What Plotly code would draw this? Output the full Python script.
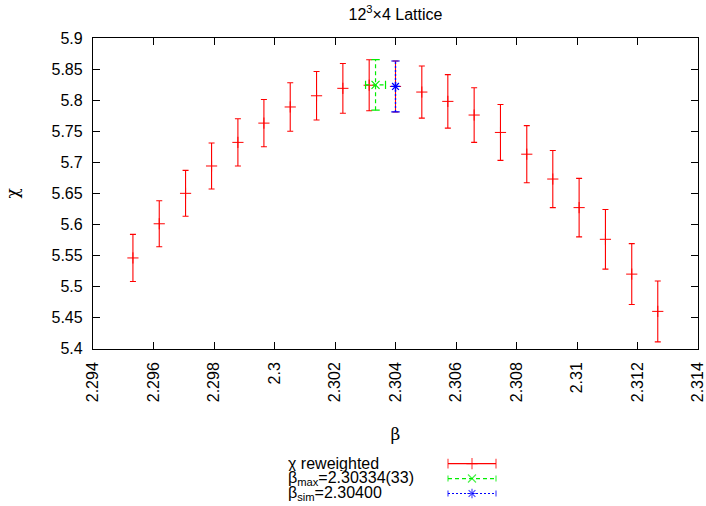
import plotly.graph_objects as go

# Reweighted susceptibility chi(beta) with jackknife errors
beta_rw = [2.29532, 2.29619, 2.29706, 2.29792, 2.29879, 2.29965, 2.30052,
           2.30139, 2.30226, 2.30313, 2.30400, 2.30487, 2.30573, 2.30660,
           2.30747, 2.30834, 2.30920, 2.31007, 2.31094, 2.31181, 2.31267]
chi_rw = [5.546, 5.601, 5.650, 5.694, 5.732, 5.763, 5.789, 5.807, 5.819,
          5.824, 5.822, 5.813, 5.798, 5.776, 5.748, 5.713, 5.673, 5.627,
          5.576, 5.520, 5.460]
chi_rw_err = [0.038, 0.037, 0.037, 0.037, 0.038, 0.038, 0.039, 0.039, 0.040,
              0.041, 0.041, 0.042, 0.043, 0.044, 0.045, 0.046, 0.046, 0.047,
              0.048, 0.049, 0.049]

# Location of the maximum
beta_max = 2.30334
beta_max_err = 0.00033
chi_max = 5.8245
chi_max_err = 0.0407

# Simulation point
beta_sim = 2.30400
chi_sim = 5.822
chi_sim_err = 0.041

x_ticks = [2.294, 2.296, 2.298, 2.300, 2.302, 2.304, 2.306, 2.308, 2.310, 2.312, 2.314]
x_tick_labels = ["2.294", "2.296", "2.298", "2.3", "2.302", "2.304", "2.306",
                 "2.308", "2.31", "2.312", "2.314"]
y_ticks = [5.40, 5.45, 5.50, 5.55, 5.60, 5.65, 5.70, 5.75, 5.80, 5.85, 5.90]
y_tick_labels = ["5.4", "5.45", "5.5", "5.55", "5.6", "5.65", "5.7", "5.75",
                 "5.8", "5.85", "5.9"]

RED = "#ff0000"
GREEN = "#00ee00"
BLUE = "#0000ff"
FONT = "Liberation Sans, Arial, Helvetica, sans-serif"

fig = go.Figure()

# red reweighted points
fig.add_trace(go.Scatter(
    x=beta_rw, y=chi_rw, mode="markers",
    marker=dict(symbol="cross-thin", size=8, color=RED, line=dict(color=RED, width=1)),
    error_y=dict(type="data", array=chi_rw_err, visible=True, color=RED,
                 thickness=1.1, width=3),
    showlegend=False, cliponaxis=False,
))

# green maximum: dashed x/y error bars
fig.add_trace(go.Scatter(
    x=[beta_max, beta_max], y=[chi_max - chi_max_err, chi_max + chi_max_err],
    mode="lines", line=dict(color=GREEN, width=1.2, dash="4px,3px"), showlegend=False,
))
fig.add_trace(go.Scatter(
    x=[beta_max - beta_max_err, beta_max + beta_max_err], y=[chi_max, chi_max],
    mode="lines", line=dict(color=GREEN, width=1.2, dash="4px,3px"), showlegend=False,
))
fig.add_trace(go.Scatter(
    x=[beta_max, beta_max], y=[chi_max - chi_max_err, chi_max + chi_max_err],
    mode="markers", marker=dict(symbol="line-ew", size=6, color=GREEN,
                                line=dict(color=GREEN, width=1.2)),
    showlegend=False,
))
fig.add_trace(go.Scatter(
    x=[beta_max - beta_max_err, beta_max + beta_max_err], y=[chi_max, chi_max],
    mode="markers", marker=dict(symbol="line-ns", size=6, color=GREEN,
                                line=dict(color=GREEN, width=1.2)),
    showlegend=False,
))
fig.add_trace(go.Scatter(
    x=[beta_max], y=[chi_max], mode="markers",
    marker=dict(symbol="x-thin", size=8, color=GREEN, line=dict(color=GREEN, width=1.2)),
    showlegend=False,
))

# blue simulation point: dotted error bar
fig.add_trace(go.Scatter(
    x=[beta_sim, beta_sim], y=[chi_sim - chi_sim_err, chi_sim + chi_sim_err],
    mode="lines", line=dict(color=BLUE, width=1.3, dash="2px,2px"), showlegend=False,
))
fig.add_trace(go.Scatter(
    x=[beta_sim, beta_sim], y=[chi_sim - chi_sim_err, chi_sim + chi_sim_err],
    mode="markers", marker=dict(symbol="line-ew", size=6, color=BLUE,
                                line=dict(color=BLUE, width=1.2)),
    showlegend=False,
))
fig.add_trace(go.Scatter(
    x=[beta_sim], y=[chi_sim], mode="markers",
    marker=dict(symbol="asterisk-open", size=8, color=BLUE, line=dict(color=BLUE, width=1.3)),
    showlegend=False,
))

# key samples on a hidden helper axis
legend_rows = [2, 1, 0]
legend_texts = [
    "χ reweighted",
    f"β<sub>max</sub>={beta_max:.5f}({round(beta_max_err * 1e5):d})",
    f"β<sub>sim</sub>={beta_sim:.5f}",
]
legend_styles = [
    (RED, "solid", "cross-thin", 1.0),
    (GREEN, "4px,3px", "x-thin", 0.6),
    (BLUE, "2px,2px", "asterisk-open", 0.6),
]
for row, (col, dash, sym, cap) in zip(legend_rows, legend_styles):
    fig.add_trace(go.Scatter(
        x=[0, 1], y=[row, row], mode="lines", xaxis="x2", yaxis="y2",
        line=dict(color=col, width=1.2, dash=dash), showlegend=False, cliponaxis=False,
    ))
    fig.add_trace(go.Scatter(
        x=[0, 0.5, 1], y=[row, row, row], mode="markers", xaxis="x2", yaxis="y2",
        marker=dict(symbol=["line-ns", sym, "line-ns"], size=[7 * cap, 8, 7 * cap],
                    color=col, line=dict(color=col, width=1.2)),
        showlegend=False, cliponaxis=False,
    ))

annotations = []
for row, txt in zip(legend_rows, legend_texts):
    annotations.append(dict(
        text=txt, xref="paper", yref="y2", x=(287 - 93) / 605, y=row,
        xanchor="left", yanchor="middle", showarrow=False,
        height=15, valign="middle", borderpad=0,
        font=dict(family=FONT, size=16, color="black"),
    ))

plot_bottom = (501 - 348.5) / 463.5

fig.update_layout(
    template="none",
    width=706, height=506,
    margin=dict(l=93, r=8, t=37.5, b=5, pad=0, autoexpand=False),
    paper_bgcolor="white", plot_bgcolor="white",
    font=dict(family=FONT, size=16, color="black"),
    title=dict(text="12<sup>3</sup>×4 Lattice", x=0.5, xref="paper", xanchor="center",
               y=1 - 14 / 506, yanchor="middle", yref="container",
               font=dict(family=FONT, size=16, color="black")),
    xaxis=dict(
        range=[2.294, 2.314], tickvals=x_ticks, ticktext=x_tick_labels,
        tickangle=-90, ticks="inside", ticklen=7, tickcolor="black", tickwidth=1,
        showline=True, linecolor="black", linewidth=1.3, mirror="ticks",
        showgrid=False, zeroline=False, ticklabelstandoff=6,
        ticklabeloverflow="allow", automargin=False,
        title=dict(text="β", standoff=26, font=dict(family="DejaVu Serif, serif", size=17)),
        domain=[0, 1], anchor="y",
    ),
    yaxis=dict(
        range=[5.4, 5.9], tickvals=y_ticks, ticktext=y_tick_labels,
        ticks="inside", ticklen=7, tickcolor="black", tickwidth=1,
        showline=True, linecolor="black", linewidth=1.3, mirror="ticks",
        showgrid=False, zeroline=False, ticklabelstandoff=6,
        ticklabeloverflow="allow", automargin=False,
        title=dict(text="χ", standoff=28, font=dict(family="DejaVu Serif, serif", size=17)),
        domain=[plot_bottom, 1], anchor="x",
    ),
    xaxis2=dict(domain=[(448 - 93) / 605, (496 - 93) / 605], range=[0, 1],
                visible=False, anchor="y2", fixedrange=True, automargin=False),
    yaxis2=dict(domain=[0, (501 - 456) / 463.5], range=[-0.5, 2.5],
                visible=False, anchor="x2", fixedrange=True, automargin=False),
    annotations=annotations,
)

fig.write_html("out.html")
